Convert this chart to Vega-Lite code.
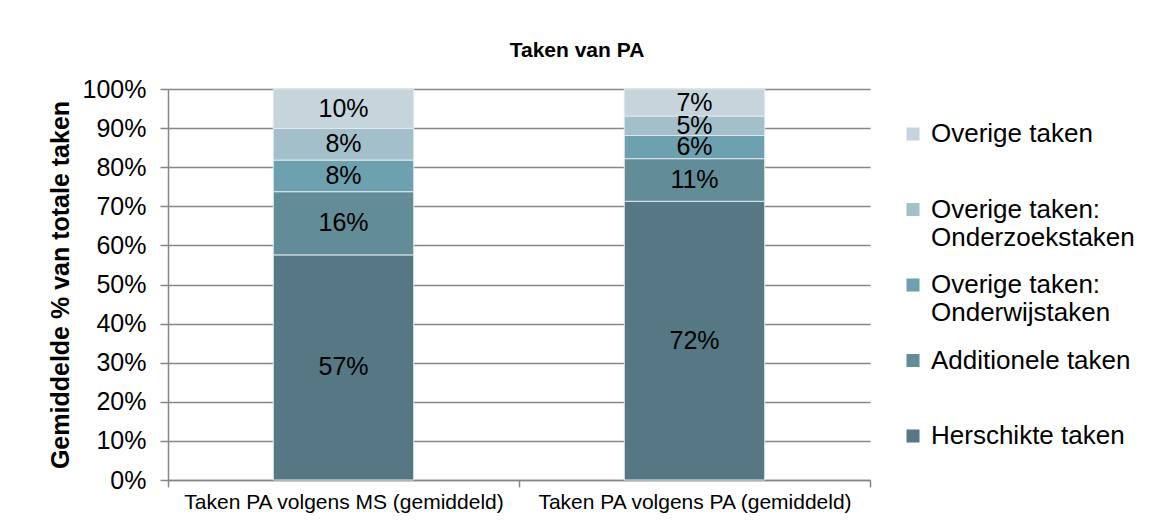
{
  "$schema": "https://vega.github.io/schema/vega-lite/v6.json",
  "width": 702,
  "height": 391,
  "autosize": {"type": "none"},
  "padding": {"left": 168, "top": 89, "right": 282, "bottom": 51},
  "background": "white",
  "title": {
    "text": "Taken van PA",
    "font": "Liberation Sans",
    "fontSize": 21,
    "fontWeight": "bold",
    "color": "black",
    "anchor": "middle",
    "offset": 16,
    "dx": 58
  },
  "data": {
    "values": [
      {"groep": "Taken PA volgens MS (gemiddeld)", "taak": "Herschikte taken", "volgorde": 1, "waarde": 0.57},
      {"groep": "Taken PA volgens MS (gemiddeld)", "taak": "Additionele taken", "volgorde": 2, "waarde": 0.16},
      {"groep": "Taken PA volgens MS (gemiddeld)", "taak": "Overige taken:|Onderwijstaken", "volgorde": 3, "waarde": 0.08},
      {"groep": "Taken PA volgens MS (gemiddeld)", "taak": "Overige taken:|Onderzoekstaken", "volgorde": 4, "waarde": 0.08},
      {"groep": "Taken PA volgens MS (gemiddeld)", "taak": "Overige taken", "volgorde": 5, "waarde": 0.10},
      {"groep": "Taken PA volgens PA (gemiddeld)", "taak": "Herschikte taken", "volgorde": 1, "waarde": 0.72},
      {"groep": "Taken PA volgens PA (gemiddeld)", "taak": "Additionele taken", "volgorde": 2, "waarde": 0.11},
      {"groep": "Taken PA volgens PA (gemiddeld)", "taak": "Overige taken:|Onderwijstaken", "volgorde": 3, "waarde": 0.06},
      {"groep": "Taken PA volgens PA (gemiddeld)", "taak": "Overige taken:|Onderzoekstaken", "volgorde": 4, "waarde": 0.05},
      {"groep": "Taken PA volgens PA (gemiddeld)", "taak": "Overige taken", "volgorde": 5, "waarde": 0.07}
    ]
  },
  "encoding": {
    "x": {
      "field": "groep",
      "type": "nominal",
      "sort": null,
      "scale": {"paddingInner": 0, "paddingOuter": 0},
      "axis": {
        "title": null,
        "labelAngle": 0,
        "labelFont": "Liberation Sans",
        "labelFontSize": 21,
        "labelColor": "black",
        "labelPadding": 4,
        "labelLimit": 400,
        "ticks": true,
        "tickBand": "extent",
        "tickSize": 7,
        "tickColor": "#868686",
        "tickWidth": 1.5,
        "domainColor": "#868686",
        "domainWidth": 1.5
      }
    },
    "y": {
      "field": "waarde",
      "type": "quantitative",
      "stack": "normalize",
      "scale": {"domain": [0, 1]},
      "axis": {
        "title": "Gemiddelde % van totale taken",
        "titleFont": "Liberation Sans",
        "titleFontSize": 25,
        "titleFontWeight": "bold",
        "titleColor": "black",
        "titlePadding": 9,
        "values": [0, 0.1, 0.2, 0.3, 0.4, 0.5, 0.6, 0.7, 0.8, 0.9, 1],
        "format": ".0%",
        "labelFont": "Liberation Sans",
        "labelFontSize": 25,
        "labelColor": "black",
        "labelPadding": 14,
        "tickSize": 8,
        "tickColor": "#868686",
        "tickWidth": 1.5,
        "domainColor": "#868686",
        "domainWidth": 1.5,
        "grid": true,
        "gridColor": "#868686",
        "gridWidth": 1.5
      }
    },
    "order": {"field": "volgorde", "type": "quantitative", "sort": "ascending"}
  },
  "layer": [
    {
      "mark": {"type": "bar", "width": {"band": 0.4}, "stroke": "#dfe8ec", "strokeWidth": 1},
      "encoding": {
        "color": {
          "field": "taak",
          "type": "nominal",
          "scale": {
            "domain": ["Overige taken", "Overige taken:|Onderzoekstaken", "Overige taken:|Onderwijstaken", "Additionele taken", "Herschikte taken"],
            "range": ["#C6D5DC", "#A3BFC9", "#6EA1AF", "#628C97", "#557884"]
          },
          "legend": {
            "title": null,
            "orient": "none",
            "legendX": 732,
            "legendY": 32,
            "columns": 1,
            "gridAlign": "all",
            "labelExpr": "split(datum.label, '|')",
            "labelFont": "Liberation Sans",
            "labelFontSize": 26,
            "labelColor": "black",
            "labelLimit": 400,
            "labelOffset": 5,
            "symbolType": "square",
            "symbolSize": 170,
            "symbolStrokeWidth": 0,
            "rowPadding": 21.5,
            "encode": {"labels": {"update": {"lineHeight": {"value": 29}}}}
          }
        }
      }
    },
    {
      "mark": {"type": "text", "font": "Liberation Sans", "fontSize": 25, "color": "black", "baseline": "middle"},
      "encoding": {
        "y": {"field": "waarde", "type": "quantitative", "stack": "normalize", "bandPosition": 0.5},
        "text": {"field": "waarde", "type": "quantitative", "format": ".0%"}
      }
    }
  ],
  "config": {"view": {"stroke": null}}
}
